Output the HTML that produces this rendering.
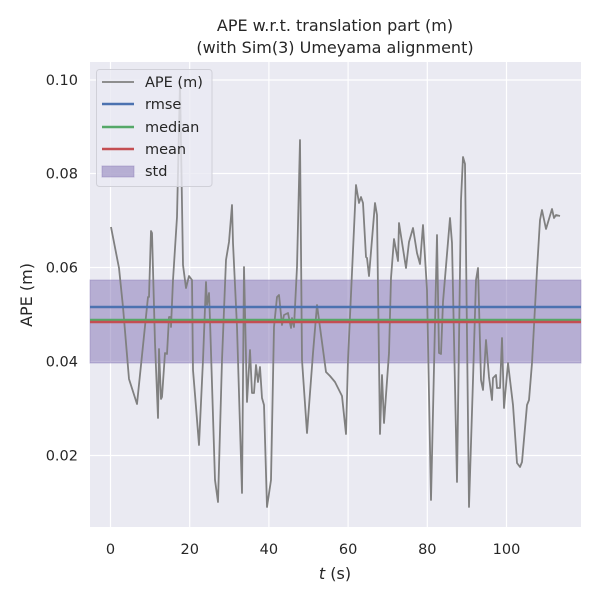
<!DOCTYPE html>
<html><head><meta charset="utf-8"><style>
html,body{margin:0;padding:0;background:#fff;}
svg{display:block;font-family:"DejaVu Sans","Liberation Sans",sans-serif;}
</style></head><body>
<svg width="600" height="600" viewBox="0 0 600 600" xmlns="http://www.w3.org/2000/svg">
<rect x="90" y="62" width="491" height="465" fill="#eaeaf2"/>
<g stroke="#fff" stroke-width="1.2">
<line x1="110.5" y1="62" x2="110.5" y2="527"/>
<line x1="189.7" y1="62" x2="189.7" y2="527"/>
<line x1="268.9" y1="62" x2="268.9" y2="527"/>
<line x1="348.1" y1="62" x2="348.1" y2="527"/>
<line x1="427.3" y1="62" x2="427.3" y2="527"/>
<line x1="506.5" y1="62" x2="506.5" y2="527"/>
<line x1="90" y1="80" x2="581" y2="80"/>
<line x1="90" y1="173.5" x2="581" y2="173.5"/>
<line x1="90" y1="267.5" x2="581" y2="267.5"/>
<line x1="90" y1="361.5" x2="581" y2="361.5"/>
<line x1="90" y1="455.5" x2="581" y2="455.5"/>
</g>
<rect x="90" y="280" width="491" height="83" fill="#8172b3" fill-opacity="0.5" stroke="#8172b3" stroke-opacity="0.4"/>
<polyline fill="none" stroke="#808080" stroke-width="1.8" stroke-linejoin="round" points="111,227 119,268 123,307 129,379 137,404 148,297 149,297 151,231 152,233 155,343 158,418 159,349 161,399 162,397 165,353 167,354 169,317 171,317 171,327 173,280 177,217 180,83 183,265 186,288 189,276 192,280 193,370 196,407 199,445 203,360 206,282 207,305 209,293 210,320 215,480 218,502 222,360 226,260 229,242 232,205 233,243 237,327 242,493 244,267 247,402 250,350 252,393 254,393 256,365 258,382 260,367 262,398 264,405 267,507 271,480 274,327 277,297 279,295 282,325 284,315 288,313 291,328 292,318 294,327 297,267 300,140 302,360 307,433 313,353 317,305 326,372 330,376 335,382 342,396 346,434 348,360 356,185 359,203 361,197 363,203 366,257 367,258 369,276 375,203 377,215 380,434 382,375 384,423 389,353 391,278 394,239 398,261 399,223 406,268 409,242 413,228 417,253 420,264 423,225 427,290 431,500 437,235 439,353 441,354 443,302 450,218 452,243 457,482 461,200 463,157 465,164 469,507 473,380 476,280 478,268 481,380 483,390 486,340 489,377 492,400 493,378 496,375 497,388 500,388 502,338 504,408 508,363 513,405 517,463 520,467 522,462 527,405 529,400 532,363 537,270 540,220 542,210 546,229 552,209 554,218 556,215 560,216"/>
<line x1="90" y1="307" x2="581" y2="307" stroke="#4c72b0" stroke-width="2.5"/>
<line x1="90" y1="320" x2="581" y2="320" stroke="#55a868" stroke-width="2.5"/>
<line x1="90" y1="322" x2="581" y2="322" stroke="#c44e52" stroke-width="2.5"/>
<rect x="96.5" y="69.5" width="115.5" height="117" rx="3" fill="#eaeaf2" fill-opacity="0.8" stroke="#d0d0d8"/>
<g stroke-width="2.5">
<line x1="102" y1="82" x2="134" y2="82" stroke="#808080" stroke-width="1.8"/>
<line x1="102" y1="104" x2="134" y2="104" stroke="#4c72b0"/>
<line x1="102" y1="127" x2="134" y2="127" stroke="#55a868"/>
<line x1="102" y1="149" x2="134" y2="149" stroke="#c44e52"/>
</g>
<rect x="102" y="166" width="32" height="11" fill="#8172b3" fill-opacity="0.5" stroke="#8172b3" stroke-opacity="0.4"/>
<g font-size="14.5" fill="#262626">
<text x="145" y="87">APE (m)</text>
<text x="145" y="109">rmse</text>
<text x="145" y="132">median</text>
<text x="145" y="154">mean</text>
<text x="145" y="176">std</text>
</g>
<g font-size="16" fill="#262626" text-anchor="middle">
<text x="335" y="31">APE w.r.t. translation part (m)</text>
<text x="335" y="53">(with Sim(3) Umeyama alignment)</text>
</g>
<g font-size="14.5" fill="#262626" text-anchor="middle">
<text x="110.5" y="554">0</text>
<text x="189.7" y="554">20</text>
<text x="268.9" y="554">40</text>
<text x="348.1" y="554">60</text>
<text x="427.3" y="554">80</text>
<text x="506.5" y="554">100</text>
<text x="335" y="579" font-size="16"><tspan font-style="italic">t</tspan> (s)</text>
</g>
<g font-size="14.5" fill="#262626" text-anchor="end">
<text x="78" y="85">0.10</text>
<text x="78" y="178.5">0.08</text>
<text x="78" y="272.5">0.06</text>
<text x="78" y="366.5">0.04</text>
<text x="78" y="460.5">0.02</text>
</g>
<text transform="translate(32,295) rotate(-90)" font-size="16" fill="#262626" text-anchor="middle">APE (m)</text>
</svg>
</body></html>
